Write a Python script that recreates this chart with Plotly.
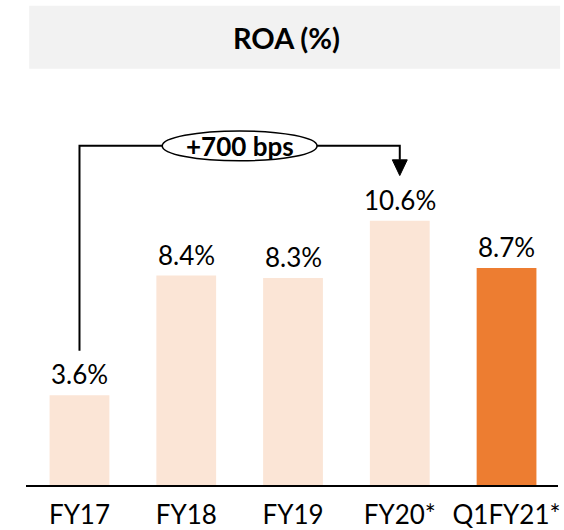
import plotly.graph_objects as go

categories = ["FY17", "FY18", "FY19", "FY20*", "Q1FY21*"]
roa_values = [3.6, 8.4, 8.3, 10.6, 8.7]
value_labels = ["3.6%", "8.4%", "8.3%", "10.6%", "8.7%"]
bar_colors = ["#FBE5D6", "#FBE5D6", "#FBE5D6", "#FBE5D6", "#ED7D31"]
change_label = "+700 bps"
title_text = "ROA (%)"

FONT = "Lato"
x_idx = list(range(len(categories)))

fig = go.Figure()
fig.add_trace(go.Bar(
    x=x_idx, y=roa_values, marker=dict(color=bar_colors, line=dict(width=0)),
    width=0.56, hoverinfo="skip",
))

annotations = []
for i, (v, t) in enumerate(zip(roa_values, value_labels)):
    annotations.append(dict(x=i, y=v, text=t, showarrow=False, xref="x", yref="y",
                            yanchor="middle", yshift=21,
                            font=dict(family=FONT, size=26, color="#000000")))

# bracket from FY17 to FY20*
i0, i1 = 0, 3
y_top = 13.6
y_left_bottom = roa_values[i0] + 1.78
y_tip = 12.41
y_head = 13.04
shapes = [
    dict(type="rect", xref="paper", yref="paper", x0=0.006, x1=1.004, y0=0.858, y1=0.988,
         fillcolor="#F2F2F2", line=dict(width=0), layer="below"),
    dict(type="path", xref="x", yref="y",
         path=f"M {i0},{y_left_bottom} L {i0},{y_top} L {i1},{y_top} L {i1},{y_head}",
         line=dict(color="#000000", width=2)),
    dict(type="path", xref="x", yref="y",
         path=f"M {i1-0.07},{y_head} L {i1+0.07},{y_head} L {i1},{y_tip} Z",
         fillcolor="#000000", line=dict(color="#000000", width=1)),
    dict(type="circle", xref="x", yref="y",
         x0=(i0 + i1) / 2 - 0.725, x1=(i0 + i1) / 2 + 0.725, y0=13.0, y1=14.2,
         fillcolor="#FFFFFF", line=dict(color="#000000", width=1.5)),
]
annotations.append(dict(x=(i0 + i1) / 2, y=y_top, text=f"<b>{change_label}</b>", showarrow=False,
                        xref="x", yref="y", yanchor="middle",
                        font=dict(family=FONT, size=26, color="#000000")))
annotations.append(dict(x=0.49, y=(0.858 + 0.988) / 2, xref="paper", yref="paper",
                        text=f"<b>{title_text}</b>", showarrow=False, yanchor="middle",
                        font=dict(family=FONT, size=29, color="#000000")))

fig.update_layout(
    width=564, height=530,
    margin=dict(l=26, r=6, t=0, b=38),
    paper_bgcolor="#FFFFFF", plot_bgcolor="#FFFFFF",
    showlegend=False,
    shapes=shapes, annotations=annotations,
    xaxis=dict(range=[-0.501, 4.482], tickvals=x_idx, ticktext=categories,
               showgrid=False, zeroline=False, showline=True, linecolor="#000000", linewidth=2,
               ticks="outside", ticklen=6, tickcolor="rgba(0,0,0,0)",
               tickfont=dict(family=FONT, size=26, color="#000000")),
    yaxis=dict(range=[0, 19.45], visible=False, showgrid=False, zeroline=False),
)

fig.write_html("out.html", config={"displayModeBar": False},
               post_script="document.body.style.margin='0px';")
